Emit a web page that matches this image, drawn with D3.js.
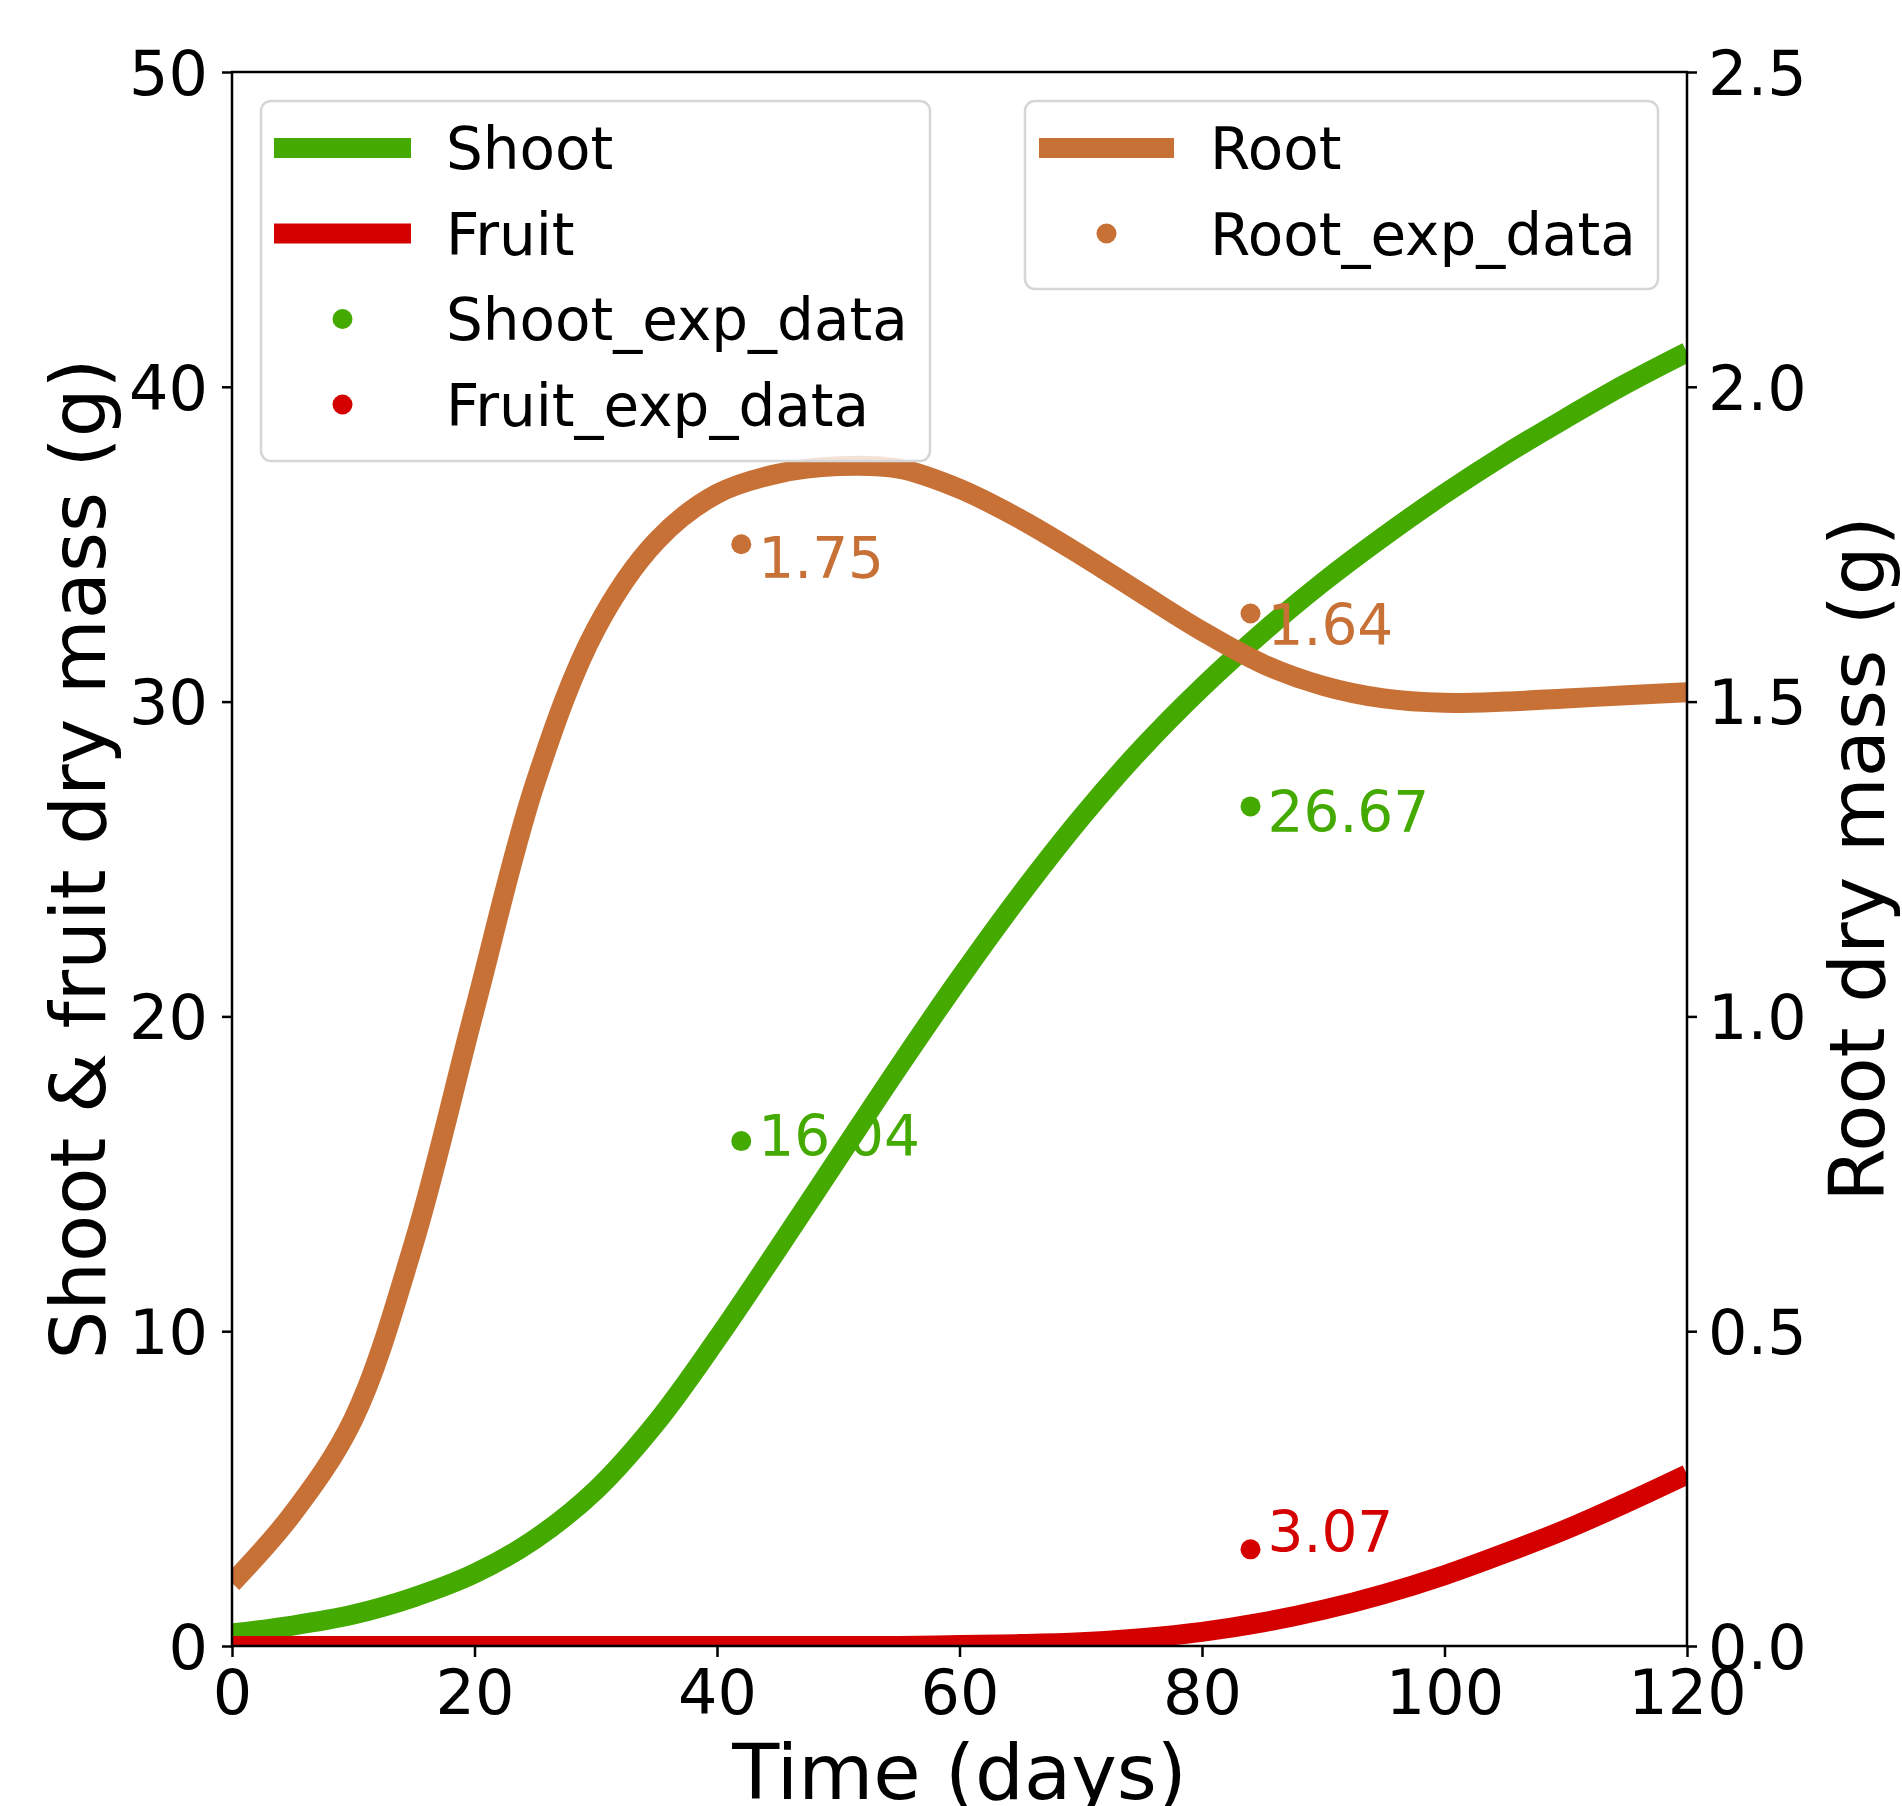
<!DOCTYPE html>
<html>
<head>
<meta charset="utf-8">
<script src="https://cdn.jsdelivr.net/npm/d3@7"></script>
<style>
  html, body { margin: 0; padding: 0; background: #ffffff; }
  svg { display: block; }
  text { font-family: "DejaVu Sans", sans-serif; }
</style>
</head>
<body>
<svg id="chart" width="1902" height="1806"></svg>
<script>
// ---------------- data ----------------
const days = [0, 5, 10, 15, 20, 25, 30, 35, 40, 45, 50, 55, 60, 65, 70, 75, 80, 85, 90, 95, 100, 105, 110, 115, 120];
const shootModel = [0.40, 0.65, 1.00, 1.55, 2.30, 3.40, 4.95, 7.10, 9.75, 12.6, 15.5, 18.4, 21.2, 23.85, 26.3, 28.5, 30.45, 32.2, 33.8, 35.25, 36.6, 37.85, 39.0, 40.1, 41.1];
const fruitModel = [0.0, 0.0, 0.0, 0.0, 0.0, 0.0, 0.0, 0.0, 0.0, 0.0, 0.0, 0.0, 0.03, 0.06, 0.12, 0.25, 0.45, 0.75, 1.15, 1.65, 2.25, 2.95, 3.70, 4.55, 5.45];
const rootModel = [0.10, 0.21, 0.36, 0.64, 1.01, 1.37, 1.615, 1.755, 1.83, 1.862, 1.874, 1.870, 1.838, 1.79, 1.733, 1.672, 1.612, 1.56, 1.525, 1.505, 1.498, 1.50, 1.505, 1.51, 1.515];

const expDays = [42, 84];
const shootExp = [16.04, 26.67];
const rootExp = [1.75, 1.64];
const fruitExpDays = [84];
const fruitExp = [3.07];

const xTicks = [0, 20, 40, 60, 80, 100, 120];
const yLeftTicks = [0, 10, 20, 30, 40, 50];
const yRightTicks = [0.0, 0.5, 1.0, 1.5, 2.0, 2.5];

const colors = { shoot: "#44aa00", fruit: "#d40000", root: "#c87137" };

// ---------------- layout ----------------
const L = 232, R = 1687, T = 72, B = 1646;
const svg = d3.select("#chart");

const x = d3.scaleLinear().domain([0, 120]).range([L, R]);
const yL = d3.scaleLinear().domain([0, 50]).range([B, T]);
const yR = d3.scaleLinear().domain([0, 2.5]).range([B, T]);

svg.append("defs").append("clipPath").attr("id", "plotclip")
  .append("rect").attr("x", L).attr("y", T).attr("width", R - L).attr("height", B - T);

const plot = svg.append("g").attr("clip-path", "url(#plotclip)");

function annot(g, xs, vs, yScale, leftEquiv, color) {
  xs.forEach((d, i) => {
    const yv = yScale(vs[i]);
    g.append("text")
      .attr("x", x(d) + 17)
      .attr("y", yv + 0.96 * leftEquiv(vs[i]))
      .attr("font-size", 56.5)
      .attr("fill", color)
      .text(vs[i].toFixed(2));
  });
}
const ann = svg.append("g");
annot(ann, expDays, shootExp, yL, v => v, colors.shoot);
annot(ann, fruitExpDays, fruitExp, yL, v => v, colors.fruit);

const lineL = d3.line().x((d, i) => x(days[i])).y(d => yL(d)).curve(d3.curveCatmullRom.alpha(0.5));
const lineR = d3.line().x((d, i) => x(days[i])).y(d => yR(d)).curve(d3.curveCatmullRom.alpha(0.5));

plot.append("path").datum(shootModel).attr("d", lineL)
  .attr("fill", "none").attr("stroke", colors.shoot).attr("stroke-width", 20);
plot.append("path").datum(fruitModel).attr("d", lineL)
  .attr("fill", "none").attr("stroke", colors.fruit).attr("stroke-width", 20);

plot.selectAll(".sdot").data(expDays).enter().append("circle")
  .attr("cx", d => x(d)).attr("cy", (d, i) => yL(shootExp[i])).attr("r", 10).attr("fill", colors.shoot);
plot.selectAll(".fdot").data(fruitExpDays).enter().append("circle")
  .attr("cx", d => x(d)).attr("cy", (d, i) => yL(fruitExp[i])).attr("r", 10).attr("fill", colors.fruit);

plot.append("path").datum(rootModel).attr("d", lineR)
  .attr("fill", "none").attr("stroke", colors.root).attr("stroke-width", 20);
plot.selectAll(".rdot").data(expDays).enter().append("circle")
  .attr("cx", d => x(d)).attr("cy", (d, i) => yR(rootExp[i])).attr("r", 10).attr("fill", colors.root);
const ann2 = svg.append("g");
annot(ann2, expDays, rootExp, yR, v => v * 20, colors.root);

// ---------------- axes ----------------
const axisG = svg.append("g");
const tickFont = 62;

const xAxis = d3.axisBottom(x).tickValues(xTicks).tickSize(11).tickPadding(10).tickFormat(d3.format("d"));
const gx = axisG.append("g").attr("transform", `translate(0,${B})`).call(xAxis);
gx.selectAll("text").attr("font-size", tickFont).attr("fill", "#000").attr("dy", "0").attr("y", 68);

const yAxisL = d3.axisLeft(yL).tickValues(yLeftTicks).tickSize(10).tickPadding(14).tickFormat(d3.format("d"));
const gyl = axisG.append("g").attr("transform", `translate(${L},0)`).call(yAxisL);
gyl.selectAll("text").attr("font-size", tickFont).attr("fill", "#000").attr("dy", "0.36em");

const yAxisR = d3.axisRight(yR).tickValues(yRightTicks).tickSize(10).tickPadding(11).tickFormat(d3.format(".1f"));
const gyr = axisG.append("g").attr("transform", `translate(${R},0)`).call(yAxisR);
gyr.selectAll("text").attr("font-size", tickFont).attr("fill", "#000").attr("dy", "0.36em");

[gx, gyl, gyr].forEach(g => {
  g.select(".domain").remove();
  g.selectAll(".tick line").attr("stroke", "#000").attr("stroke-width", 2.5);
  g.selectAll("text").attr("font-family", "DejaVu Sans");
});

axisG.append("rect").attr("x", L).attr("y", T).attr("width", R - L).attr("height", B - T)
  .attr("fill", "none").attr("stroke", "#000").attr("stroke-width", 2.5);

svg.append("text").attr("x", (L + R) / 2).attr("y", 1799).attr("text-anchor", "middle")
  .attr("font-size", 77).attr("fill", "#000").text("Time (days)");
svg.append("text").attr("transform", `translate(105,${(T + B) / 2}) rotate(-90)`).attr("text-anchor", "middle")
  .attr("font-size", 77).attr("fill", "#000").text("Shoot & fruit dry mass (g)");
svg.append("text").attr("transform", `translate(1884,${(T + B) / 2}) rotate(-90)`).attr("text-anchor", "middle")
  .attr("font-size", 77).attr("fill", "#000").text("Root dry mass (g)");

// ---------------- legends ----------------
function legend(box, items) {
  const g = svg.append("g");
  g.append("rect").attr("x", box.x).attr("y", box.y).attr("width", box.w).attr("height", box.h)
    .attr("rx", 10).attr("ry", 10)
    .attr("fill", "#ffffff").attr("fill-opacity", 0.8)
    .attr("stroke", "#d6d6d6").attr("stroke-width", 2.5);
  items.forEach((it, i) => {
    const cy = box.rowY0 + i * 85.5;
    if (it.type === "line") {
      g.append("line").attr("x1", box.hx1).attr("x2", box.hx2).attr("y1", cy).attr("y2", cy)
        .attr("stroke", it.color).attr("stroke-width", 20);
    } else {
      g.append("circle").attr("cx", (box.hx1 + box.hx2) / 2).attr("cy", cy).attr("r", 10).attr("fill", it.color);
    }
    g.append("text").attr("x", box.tx).attr("y", cy + 21).attr("font-size", 58).attr("fill", "#000").text(it.label);
  });
}
legend({ x: 261, y: 101, w: 669, h: 360, rowY0: 148, hx1: 274, hx2: 411, tx: 446 }, [
  { type: "line", color: colors.shoot, label: "Shoot" },
  { type: "line", color: colors.fruit, label: "Fruit" },
  { type: "dot", color: colors.shoot, label: "Shoot_exp_data" },
  { type: "dot", color: colors.fruit, label: "Fruit_exp_data" }
]);
legend({ x: 1025, y: 101, w: 633, h: 188, rowY0: 148, hx1: 1039, hx2: 1174, tx: 1210 }, [
  { type: "line", color: colors.root, label: "Root" },
  { type: "dot", color: colors.root, label: "Root_exp_data" }
]);
</script>
</body>
</html>
